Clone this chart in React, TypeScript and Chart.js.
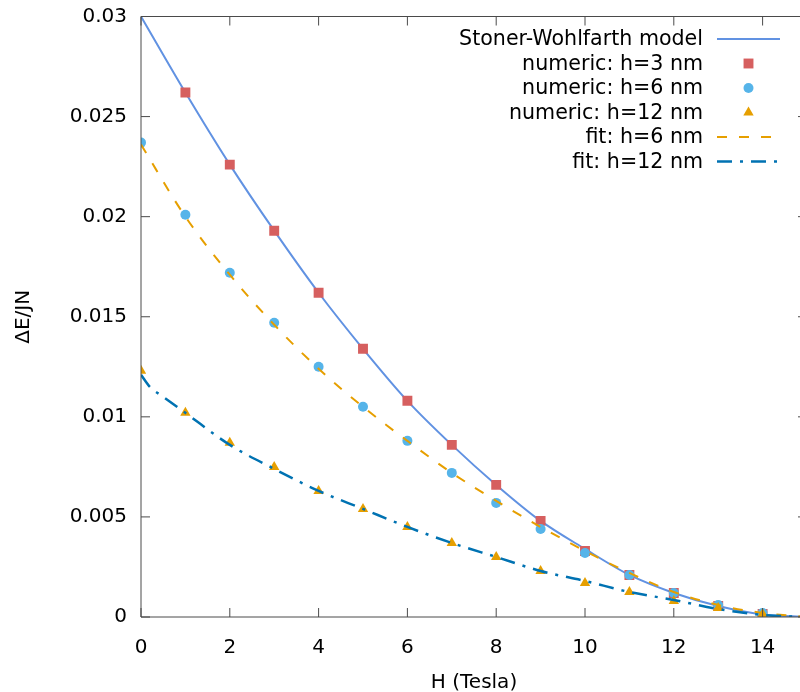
import React, { useEffect, useRef } from 'react';
import { Chart, registerables } from 'chart.js';

Chart.register(...registerables);

// ---- data ----
const H_MODEL = [0, 1, 2, 3, 4, 5, 6, 7, 8, 9, 10, 11, 12, 13, 14, 15];
const SW_MODEL = [0.03, 0.0262, 0.0226, 0.0193, 0.0162, 0.0134, 0.0108, 0.0086, 0.0066, 0.0048, 0.0034, 0.0021, 0.0012, 0.00055, 0.00013, 0];

const H_NUM3 = [1, 2, 3, 4, 5, 6, 7, 8, 9, 10, 11, 12, 13, 14];
const NUM_H3 = [0.0262, 0.0226, 0.0193, 0.0162, 0.0134, 0.0108, 0.0086, 0.0066, 0.0048, 0.0033, 0.0021, 0.0012, 0.00055, 0.00015];

const H_NUM = [0, 1, 2, 3, 4, 5, 6, 7, 8, 9, 10, 11, 12, 13, 14];
const NUM_H6 = [0.0237, 0.0201, 0.0172, 0.0147, 0.0125, 0.0105, 0.0088, 0.0072, 0.0057, 0.0044, 0.0032, 0.0021, 0.0012, 0.0006, 0.0002];
const NUM_H12 = [0.0123, 0.0102, 0.0087, 0.0075, 0.0063, 0.0054, 0.0045, 0.0037, 0.003, 0.0023, 0.0017, 0.00125, 0.0008, 0.00045, 0.00015];

const H_FIT6 = [0, 1, 2, 3, 4, 5, 6, 7, 8, 9, 10, 11, 12, 13, 14, 15];
const FIT_H6 = [0.0236, 0.02, 0.0171, 0.0146, 0.0124, 0.0105, 0.0088, 0.0072, 0.0058, 0.0045, 0.0033, 0.0022, 0.00125, 0.0006, 0.0002, 0];

const H_FIT12 = [0, 0.2, 0.5, 1, 2, 3, 4, 5, 6, 7, 8, 9, 10, 11, 12, 13, 14, 15];
const FIT_H12 = [0.0121, 0.0115, 0.011, 0.0102, 0.0086, 0.0074, 0.0063, 0.0054, 0.0045, 0.0037, 0.003, 0.0023, 0.0018, 0.00125, 0.00085, 0.0004, 0.0001, 0];

const LABELS = [
  'Stoner-Wohlfarth model',
  'numeric: h=3 nm',
  'numeric: h=6 nm',
  'numeric: h=12 nm',
  'fit: h=6 nm',
  'fit: h=12 nm',
];

const X_TITLE = 'H (Tesla)';
const Y_TITLE = 'ΔE/JN';

const pts = (xs: number[], ys: number[]) => xs.map((x, i) => ({ x, y: ys[i] }));

const FONT = 'DejaVu Sans';

const framePlugin = {
  id: 'frameTicks',
  afterDatasetsDraw(chart: any) {
    const { ctx, chartArea, scales } = chart;
    const { left, right, top, bottom } = chartArea;
    const x = scales.x;
    const y = scales.y;
    ctx.save();
    ctx.strokeStyle = '#4a4a4a';
    ctx.lineWidth = 1;
    ctx.beginPath();
    ctx.rect(left, top, right - left, bottom - top);
    ctx.stroke();
    const len = 9;
    ctx.beginPath();
    x.ticks.forEach((t: any) => {
      const px = x.getPixelForValue(t.value);
      ctx.moveTo(px, bottom);
      ctx.lineTo(px, bottom - len);
      ctx.moveTo(px, top);
      ctx.lineTo(px, top + len);
    });
    y.ticks.forEach((t: any) => {
      const py = y.getPixelForValue(t.value);
      ctx.moveTo(left, py);
      ctx.lineTo(left + len, py);
      ctx.moveTo(right, py);
      ctx.lineTo(right - len, py);
    });
    ctx.stroke();
    ctx.restore();
  },
};

const legendPlugin = {
  id: 'gnuLegend',
  afterDraw(chart: any) {
    const { ctx } = chart;
    const textRight = 703;
    const sampleL = 717;
    const sampleR = 780;
    const y0 = 39;
    const dy = 24.5;
    ctx.save();
    ctx.font = `20.6px "${FONT}"`;
    ctx.textAlign = 'right';
    ctx.textBaseline = 'middle';
    chart.data.datasets.forEach((ds: any, i: number) => {
      const yy = y0 + i * dy;
      ctx.fillStyle = '#000';
      ctx.fillText(ds.label, textRight, yy + 1);
      if (ds.showLine !== false) {
        ctx.save();
        ctx.strokeStyle = ds.borderColor;
        ctx.lineWidth = ds.borderWidth;
        ctx.setLineDash(ds.borderDash || []);
        ctx.beginPath();
        ctx.moveTo(sampleL, yy);
        ctx.lineTo(sampleR, yy);
        ctx.stroke();
        ctx.restore();
      } else {
        const cx = (sampleL + sampleR) / 2;
        const r = ds.pointRadius;
        ctx.fillStyle = ds.backgroundColor;
        ctx.beginPath();
        if (ds.pointStyle === 'rect') {
          const s = Math.SQRT1_2 * r;
          ctx.rect(cx - s, yy - s, 2 * s, 2 * s);
        } else if (ds.pointStyle === 'triangle') {
          ctx.moveTo(cx, yy - r);
          ctx.lineTo(cx + Math.sin(2 * Math.PI / 3) * r, yy + r / 2);
          ctx.lineTo(cx - Math.sin(2 * Math.PI / 3) * r, yy + r / 2);
          ctx.closePath();
        } else {
          ctx.arc(cx, yy, r, 0, Math.PI * 2);
        }
        ctx.fill();
      }
    });
    ctx.restore();
  },
};

export default function App() {
  const ref = useRef<HTMLCanvasElement>(null);
  useEffect(() => {
    if (!ref.current) return;
    Chart.defaults.font.family = FONT;
    Chart.defaults.font.size = 20;
    Chart.defaults.color = '#000';
    const lineBase = { showLine: true, pointRadius: 0, fill: false, clip: 0, cubicInterpolationMode: 'monotone' as const };
    const ptBase = { showLine: false, borderWidth: 0, clip: 0 };
    const chart = new Chart(ref.current, {
      type: 'line',
      data: {
        datasets: [
          { ...lineBase, label: LABELS[0], data: pts(H_MODEL, SW_MODEL), borderColor: '#6192e2', borderWidth: 2, order: 5 },
          { ...ptBase, label: LABELS[1], data: pts(H_NUM3, NUM_H3), pointStyle: 'rect', pointRadius: 7, backgroundColor: '#d65f5f', borderColor: '#d65f5f', order: 4 },
          { ...ptBase, label: LABELS[2], data: pts(H_NUM, NUM_H6), pointStyle: 'circle', pointRadius: 5, backgroundColor: '#56b4e9', borderColor: '#56b4e9', order: 3 },
          { ...ptBase, label: LABELS[3], data: pts(H_NUM, NUM_H12), pointStyle: 'triangle', pointRadius: 6, backgroundColor: '#e69f00', borderColor: '#e69f00', order: 2 },
          { ...lineBase, label: LABELS[4], data: pts(H_FIT6, FIT_H6), borderColor: '#e69f00', borderWidth: 2, borderDash: [10, 12], order: 1 },
          { ...lineBase, label: LABELS[5], data: pts(H_FIT12, FIT_H12), borderColor: '#0072b2', borderWidth: 2.5, borderDash: [15, 8, 3, 8], order: 0 },
        ] as any,
      },
      options: {
        animation: false,
        responsive: true,
        maintainAspectRatio: false,
        events: [],
        layout: { padding: { top: 16.5, right: 23, left: 0, bottom: 0 } },
        plugins: { legend: { display: false }, tooltip: { enabled: false } },
        scales: {
          x: {
            type: 'linear',
            min: 0,
            max: 15,
            grid: { display: false, drawTicks: false },
            border: { display: false },
            ticks: { stepSize: 2, includeBounds: false, autoSkip: false, maxRotation: 0, padding: 19, color: '#000' },
            title: { display: true, text: X_TITLE, font: { size: 20, lineHeight: 1 }, padding: { top: 0, bottom: -1 }, color: '#000' },
            afterFit: (s: any) => { s.height = 75; s.paddingLeft = 0; s.paddingRight = 0; },
          },
          y: {
            type: 'linear',
            min: 0,
            max: 0.03,
            grid: { display: false, drawTicks: false },
            border: { display: false },
            ticks: {
              stepSize: 0.005,
              padding: 14,
              color: '#000',
              callback: (v: any) => String(parseFloat(Number(v).toFixed(3))),
            },
            title: { display: true, text: Y_TITLE, font: { size: 20, lineHeight: 1.2 }, padding: { top: 12, bottom: 0 }, color: '#000' },
            afterFit: (s: any) => { s.width = 141; s.paddingTop = 0; s.paddingBottom = 0; },
          },
        },
      },
      plugins: [framePlugin, legendPlugin],
    });
    return () => chart.destroy();
  }, []);
  return (
    <div style={{ position: 'fixed', left: 0, top: 0, width: 800, height: 692, overflow: 'hidden', background: '#fff' }}>
      <div style={{ position: 'relative', width: 830, height: 692 }}>
        <canvas ref={ref} />
      </div>
    </div>
  );
}
